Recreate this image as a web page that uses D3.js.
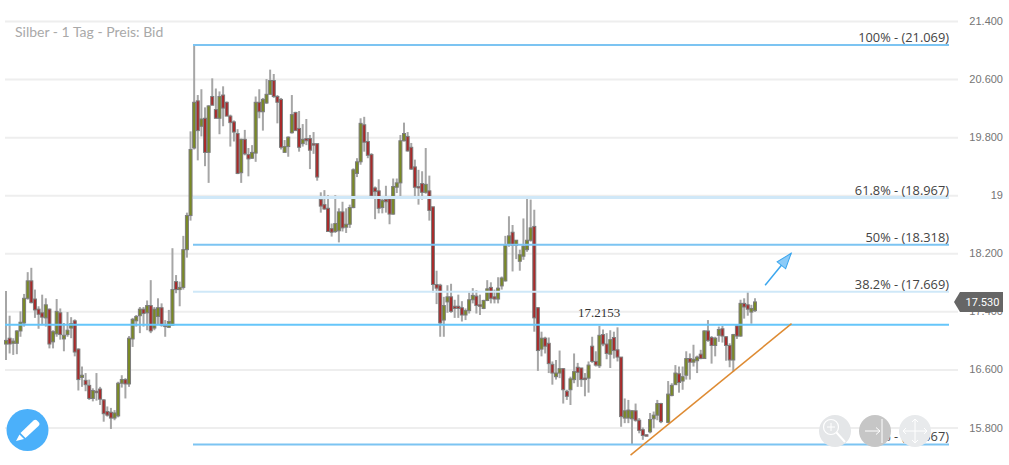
<!DOCTYPE html>
<html>
<head>
<meta charset="utf-8">
<script src="https://cdn.jsdelivr.net/npm/d3@7"></script>
<style>
html, body { margin: 0; padding: 0; background: #fff; }
svg { display: block; }
</style>
</head>
<body>
<div id="chart"></div>
<script>
// daily silver candles, null = the one missing day
const opens = [16.95,17.03,16.96,16.96,17.13,17.24,17.58,17.82,17.57,17.43,17.38,17.31,17.43,16.98,17.09,17.38,17.02,17.08,17.17,17.27,
16.88,16.49,16.45,16.38,16.20,16.30,16.33,16.18,16.02,16.01,15.93,15.96,16.41,16.46,16.40,17.02,17.27,17.34,17.43,17.38,
17.48,17.17,17.33,17.45,17.21,17.18,17.21,17.81,17.70,17.73,18.25,18.72,19.65,20.30,19.95,20.06,19.59,20.36,20.18,20.06,
20.38,20.28,20.09,20.01,19.85,19.31,19.77,19.56,19.51,19.58,20.28,20.15,20.27,20.39,20.58,20.36,20.32,19.59,19.67,19.86,
20.14,19.92,19.71,19.78,19.78,19.71,19.71,18.94,18.87,18.82,18.54,18.50,18.51,18.77,18.56,18.60,18.83,19.30,19.46,19.97,
19.74,19.56,19.10,19.06,18.83,18.94,18.95,18.74,19.11,19.17,19.75,19.81,19.66,19.39,19.12,19.16,19.04,19.06,18.84,17.77,
17.76,17.28,17.53,17.60,17.47,17.47,17.45,17.35,17.41,17.56,17.61,17.49,17.44,17.55,17.73,17.60,17.57,17.75,17.82,18.32,
18.49,18.31,18.09,18.16,18.25,18.38,18.57,17.45,16.88,17.03,16.96,16.67,16.50,16.55,16.61,16.30,16.32,16.46,16.63,16.62,
16.48,16.48,16.92,16.71,16.65,17.08,16.95,16.81,17.04,16.87,16.77,15.93,15.93,15.92,16.03,15.90,15.77,15.70,15.74,15.92,
15.97,16.13,null,15.87,16.24,16.39,16.54,16.44,16.52,16.75,16.70,16.72,16.81,16.75,17.13,17.04,16.93,17.07,17.16,17.05,
16.93,16.73,17.20,17.06,17.51,17.49,17.39,17.41];
const highs = [17.68,17.34,17.03,17.14,17.40,17.64,17.94,18.00,17.70,17.47,17.63,17.58,17.44,17.14,17.57,17.44,17.24,17.39,17.32,17.29,
16.89,16.64,16.55,16.46,16.34,16.55,16.36,16.19,16.09,16.07,16.04,16.43,16.52,16.48,17.06,17.31,17.35,17.46,17.46,17.55,
17.83,17.46,17.58,17.51,17.28,17.42,18.27,17.90,17.81,18.44,18.76,19.88,21.07,20.38,20.46,20.21,20.24,20.61,20.47,20.43,
20.50,20.29,20.11,20.03,19.91,19.78,19.90,19.65,19.69,20.36,20.46,20.34,20.60,20.73,20.67,20.38,20.34,19.76,19.81,20.38,
20.15,20.16,19.98,20.05,19.83,19.87,19.71,19.04,19.07,19.00,18.61,19.00,18.82,18.91,18.82,18.87,19.37,19.51,20.06,20.08,
19.87,19.58,19.12,19.22,18.98,19.13,18.96,19.23,19.23,19.83,20.00,19.87,19.72,19.49,19.35,19.33,19.65,19.27,18.84,17.96,
17.78,17.60,17.76,17.78,17.56,17.63,17.54,17.44,17.66,17.72,17.69,17.63,17.56,17.83,17.80,17.70,17.87,17.88,18.44,18.71,
18.59,18.38,18.25,18.68,18.96,18.94,18.80,17.46,17.12,17.05,17.04,16.71,16.73,16.86,16.62,16.32,16.50,16.82,16.69,16.62,
16.55,16.71,17.05,16.85,17.20,17.15,17.10,17.14,17.12,17.18,16.77,16.20,16.18,16.04,16.13,15.93,15.80,15.70,16.00,16.02,
16.18,16.14,null,16.44,16.41,16.66,16.64,16.64,16.85,16.82,16.94,16.79,16.87,17.14,17.28,17.06,17.05,17.19,17.20,17.06,
16.96,17.09,17.21,17.56,17.58,17.68,17.49,17.58];
const lows = [16.73,16.82,16.80,16.81,17.05,17.19,17.56,17.51,17.31,17.16,17.21,17.19,16.89,16.89,17.05,17.01,16.85,17.05,17.03,16.78,
16.31,16.36,16.30,16.18,16.16,16.17,16.11,15.88,15.95,15.78,15.90,15.94,16.35,16.20,16.36,16.91,17.19,17.10,17.19,17.14,
17.10,17.14,17.21,17.19,17.05,17.17,17.21,17.65,17.47,17.70,18.14,18.65,19.63,19.48,19.81,19.40,19.17,20.24,20.06,19.84,
19.95,20.09,19.67,19.74,19.29,19.17,19.55,19.26,19.50,19.46,20.06,19.89,20.26,20.39,20.34,19.99,19.63,19.59,19.53,19.85,
19.90,19.60,19.67,19.69,19.36,19.57,19.20,18.76,18.80,18.50,18.43,18.48,18.35,18.50,18.48,18.55,18.82,19.25,19.42,19.60,
19.51,18.98,18.67,18.75,18.75,18.76,18.60,18.73,19.03,18.98,19.74,19.60,19.35,18.98,18.87,18.94,19.02,18.65,17.66,17.50,
17.05,17.05,17.38,17.38,17.31,17.31,17.26,17.28,17.37,17.51,17.37,17.35,17.43,17.54,17.51,17.51,17.51,17.70,17.81,18.29,
17.95,18.12,17.96,18.11,18.22,18.36,17.12,16.58,16.78,16.82,16.55,16.39,16.46,16.48,16.13,16.18,16.11,16.41,16.36,16.36,
16.23,16.28,16.69,16.64,16.62,16.92,16.74,16.62,16.75,16.71,15.81,15.86,15.86,15.56,15.88,15.72,15.63,15.68,15.72,15.79,
15.90,15.86,null,15.86,16.23,16.39,16.28,16.32,16.46,16.46,16.64,16.55,16.74,16.75,16.98,16.68,16.78,16.98,16.97,16.72,
16.63,16.57,17.02,17.05,17.30,17.34,17.23,17.39];
const closes = [17.00,16.95,16.99,17.13,17.25,17.58,17.82,17.52,17.42,17.36,17.32,17.49,16.95,17.12,17.40,17.08,17.07,17.14,17.23,16.84,
16.46,16.52,16.39,16.20,16.31,16.28,16.19,15.99,15.97,15.93,16.00,16.41,16.46,16.40,17.03,17.29,17.33,17.43,17.37,17.48,
17.13,17.43,17.45,17.21,17.19,17.26,17.70,17.70,17.73,18.25,18.72,19.63,20.28,19.89,20.05,19.59,20.23,20.24,20.06,20.36,
20.20,20.09,20.00,19.87,19.30,19.77,19.57,19.50,19.59,20.28,20.15,20.32,20.39,20.58,20.36,20.28,19.66,19.67,19.80,20.11,
19.89,19.66,19.77,19.75,19.62,19.69,19.25,18.85,18.81,18.50,18.49,18.61,18.77,18.55,18.60,18.83,19.35,19.46,19.99,19.73,
19.55,18.99,19.05,18.82,18.93,18.91,18.74,19.12,19.17,19.75,19.85,19.61,19.36,19.11,19.10,19.04,19.15,18.79,17.77,17.72,
17.24,17.48,17.60,17.40,17.44,17.44,17.35,17.41,17.56,17.62,17.48,17.47,17.55,17.71,17.58,17.57,17.72,17.86,18.32,18.44,
18.31,18.38,18.18,18.30,18.38,18.55,17.31,16.86,17.03,16.92,16.68,16.55,16.55,16.61,16.32,16.23,16.47,16.57,16.56,16.46,
16.46,16.66,16.71,16.66,17.07,16.95,16.82,17.01,16.86,16.77,15.95,16.03,16.04,16.03,15.90,15.76,15.69,15.68,15.91,15.97,
16.13,15.88,null,16.26,16.38,16.55,16.42,16.50,16.75,16.70,16.74,16.77,16.75,17.13,17.00,16.93,17.03,17.15,17.06,16.93,
16.73,17.08,17.06,17.51,17.46,17.43,17.44,17.53];

const gridTicks = [21.4, 20.6, 19.8, 19, 18.2, 17.4, 16.6, 15.8];
const tickLabels = ['21.400', '20.600', '19.800', '19', '18.200', '17.400', '16.600', '15.800'];

const fibLevels = [21.069, 18.967, 18.318, 17.669, 15.567];
const fibLabels = ['100% - (21.069)', '61.8% - (18.967)', '50% - (18.318)', '38.2% - (17.669)', '0% - (15.567)'];
const fibColors = ['#7cc4f2', '#d0e8f8', '#7cc4f2', '#cfe8f8', '#7cc4f2'];
const fibWidths = [2, 3, 2, 2, 2];

const lastPrice = 17.53;
const supportLevel = 17.2153;
// two ends of the drawn tools, [candle index, price]
const trendLine = [[172.6, 15.42], [217.1, 17.23]];
const arrowLine = [[209.8, 17.76], [217, 18.2]];

const width = 1009, height = 465;

const svg = d3.select('#chart').append('svg')
    .attr('width', width)
    .attr('height', height)
    .attr('viewBox', `0 0 ${width} ${height}`)
    .style('font-family', 'Roboto, sans-serif');

const x = d3.scaleLinear().domain([0, opens.length - 1]).range([6, 755]);
const y = d3.scaleLinear().domain([21.4, 15.8]).range([21, 427.5]);

// grid
const yAxis = d3.axisRight(y)
    .tickValues(gridTicks)
    .tickFormat((d, i) => tickLabels[i])
    .tickSize(953)
    .tickPadding(0);

const axisG = svg.append('g')
    .attr('transform', 'translate(5,0)')
    .call(yAxis);
axisG.select('.domain').remove();
axisG.selectAll('line').attr('stroke', '#eeeeee').attr('stroke-width', 2);
axisG.selectAll('text')
    .attr('x', 998)
    .attr('text-anchor', 'end')
    .attr('fill', '#757575')
    .attr('font-size', 11);

svg.append('text')
    .attr('x', 15)
    .attr('y', 37)
    .attr('fill', '#a9a9a9')
    .attr('font-family', 'Lato, sans-serif')
    .attr('font-size', 14)
    .text('Silber - 1 Tag - Preis: Bid');

// candles
const candles = opens.map((o, i) => ({ i, o, h: highs[i], l: lows[i], c: closes[i] }))
    .filter(d => d.o !== null);

const candleG = svg.selectAll('.candle')
    .data(candles)
    .enter().append('g')
    .attr('class', 'candle');

candleG.append('line')
    .attr('x1', d => x(d.i))
    .attr('x2', d => x(d.i))
    .attr('y1', d => y(d.h))
    .attr('y2', d => y(d.l))
    .attr('stroke', '#a6a6a6')
    .attr('stroke-width', 2);

candleG.append('rect')
    .attr('x', d => x(d.i) - 1.5)
    .attr('width', 3)
    .attr('y', d => y(Math.max(d.o, d.c)))
    .attr('height', d => Math.max(1, Math.abs(y(d.o) - y(d.c))))
    .attr('fill', d => d.c >= d.o ? '#7a8a24' : '#a82a2a')
    .attr('stroke', '#7c7c7c')
    .attr('stroke-width', 1);

// fibonacci levels
svg.selectAll('.fib')
    .data(fibLevels)
    .enter().append('line')
    .attr('class', 'fib')
    .attr('x1', 193)
    .attr('x2', 949)
    .attr('y1', d => y(d))
    .attr('y2', d => y(d))
    .attr('stroke', (d, i) => fibColors[i])
    .attr('stroke-width', (d, i) => fibWidths[i]);

svg.selectAll('.fib-label')
    .data(fibLevels)
    .enter().append('text')
    .attr('class', 'fib-label')
    .attr('x', 949)
    .attr('y', d => y(d) - 3)
    .attr('text-anchor', 'end')
    .attr('fill', '#444')
    .attr('font-family', '"Open Sans", sans-serif')
    .attr('font-size', 12.8)
    .text((d, i) => fibLabels[i]);

// support line
svg.append('line')
    .attr('x1', 5)
    .attr('x2', 949)
    .attr('y1', y(supportLevel))
    .attr('y2', y(supportLevel))
    .attr('stroke', '#66c6fa')
    .attr('stroke-width', 2);

svg.append('text')
    .attr('x', 578)
    .attr('y', 317)
    .attr('fill', '#333')
    .attr('font-family', '"Liberation Serif", serif')
    .attr('font-size', 13)
    .text(d3.format('.4f')(supportLevel));

// trend line
svg.append('line')
    .attr('x1', x(trendLine[0][0]))
    .attr('y1', y(trendLine[0][1]))
    .attr('x2', x(trendLine[1][0]))
    .attr('y2', y(trendLine[1][1]))
    .attr('stroke', '#de8b33')
    .attr('stroke-width', 1.5);

// arrow
const ax0 = x(arrowLine[0][0]), ay0 = y(arrowLine[0][1]);
const ax1 = x(arrowLine[1][0]), ay1 = y(arrowLine[1][1]);
const arrowAngle = Math.atan2(ay1 - ay0, ax1 - ax0) * 180 / Math.PI;
svg.append('line')
    .attr('x1', ax0)
    .attr('y1', ay0)
    .attr('x2', ax1)
    .attr('y2', ay1)
    .attr('stroke', '#3ba6ee')
    .attr('stroke-width', 1.5);
svg.append('path')
    .attr('d', 'M0,0 L-15.5,-5.5 L-15.5,5.5 Z')
    .attr('fill', '#8ccbf8')
    .attr('stroke', '#3ba6ee')
    .attr('stroke-width', 1)
    .attr('transform', `translate(${ax1},${ay1}) rotate(${arrowAngle})`);

// last price tag
const tagY = y(lastPrice);
const tag = svg.append('g').attr('transform', `translate(0,${tagY})`);
tag.append('path')
    .attr('d', 'M954,0 L960,-10 L1003,-10 L1003,10 L960,10 Z')
    .attr('fill', '#666666');
tag.append('text')
    .attr('x', 982.5)
    .attr('y', 4)
    .attr('text-anchor', 'middle')
    .attr('fill', '#fff')
    .attr('font-size', 11)
    .text(d3.format('.3f')(lastPrice));

// edit button
const editBtn = svg.append('g').attr('transform', 'translate(27.5,430)');
editBtn.append('circle').attr('r', 21).attr('fill', '#4bb0fa');
editBtn.append('path')
    .attr('d', 'M-7,3 L6,-9.5 Q8,-11 10,-9 L11,-8 Q13,-6 11,-4 L-2,8 Z')
    .attr('fill', '#fff');
editBtn.append('path')
    .attr('d', 'M-8,4.5 L-3.5,9 L-11.5,11 Z')
    .attr('fill', '#fff');

// zoom buttons
const zoomBtn = svg.append('g').attr('transform', 'translate(835,431)');
zoomBtn.append('circle').attr('r', 16).attr('fill', '#e4e6e8');
zoomBtn.append('circle').attr('cx', -4).attr('cy', -4).attr('r', 7.5)
    .attr('fill', 'none').attr('stroke', '#fff').attr('stroke-width', 1.2);
zoomBtn.append('path').attr('d', 'M1.5,1.5 L10,11').attr('stroke', '#fff').attr('stroke-width', 2);
zoomBtn.append('path').attr('d', 'M-8,-4 H0 M-4,-8 V0').attr('stroke', '#fff').attr('stroke-width', 1);

const endBtn = svg.append('g').attr('transform', 'translate(875,431)');
endBtn.append('circle').attr('r', 16).attr('fill', '#c6c6c6');
endBtn.append('path').attr('d', 'M-10,0 H5 M1,-3.5 L5,0 L1,3.5 M7,-12 V12')
    .attr('stroke', '#fff').attr('stroke-width', 1).attr('fill', 'none');

const panBtn = svg.append('g').attr('transform', 'translate(915,431)');
panBtn.append('circle').attr('r', 16).attr('fill', '#e8eaec');
panBtn.append('path')
    .attr('d', 'M-12,0 H12 M0,-12 V12 M-9,-3 L-12,0 L-9,3 M9,-3 L12,0 L9,3 M-3,-9 L0,-12 L3,-9 M-3,9 L0,12 L3,9')
    .attr('stroke', '#fff').attr('stroke-width', 1).attr('fill', 'none');
</script>
</body>
</html>
